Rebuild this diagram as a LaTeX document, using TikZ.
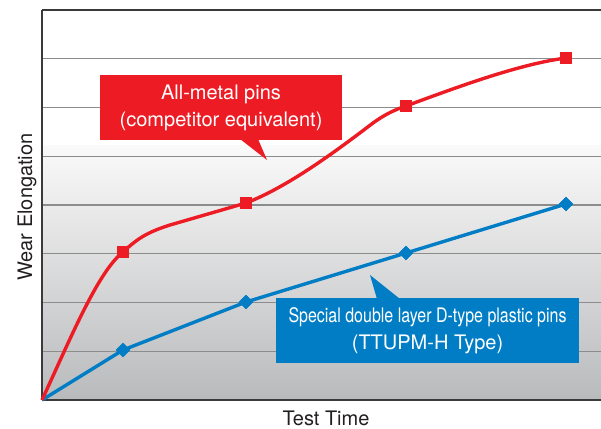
\documentclass[tikz,border=0pt]{standalone}
\usepackage{fontspec}
\setmainfont{TeX Gyre Heros}
\usepackage{graphicx}
\definecolor{pinred}{HTML}{ED1C24}
\definecolor{pinblue}{HTML}{007DC5}
\definecolor{gridgray}{HTML}{8C8C8C}
\definecolor{axisdark}{HTML}{3A3A3A}
\definecolor{txt}{HTML}{231F20}
\definecolor{bgbottom}{HTML}{B9BABC}
\definecolor{bgtop}{HTML}{FAFAFA}
\tikzset{
  gridline/.style={draw=gridgray, line width=1.1pt},
  axisline/.style={draw=axisdark, line width=1.6pt},
  redcurve/.style={draw=pinred, line width=3.4pt, line join=round},
  bluecurve/.style={draw=pinblue, line width=3.4pt, line join=round},
  redmark/.style={fill=pinred, draw=none, minimum size=12pt, inner sep=0pt, shape=rectangle},
  bluemark/.style={fill=pinblue, draw=none, minimum size=10pt, inner sep=0pt, shape=rectangle, rotate=45},
  callout/.style={text=white, inner sep=0pt, align=center, font=\fontsize{20}{27}\selectfont},
  axislabel/.style={text=txt, inner sep=0pt, font=\fontsize{20}{24}\selectfont},
}
\begin{document}
\begin{tikzpicture}[x=1pt, y=-1pt]
\useasboundingbox (0,0) rectangle (601,428);
% background
\fill[white] (42,10) rectangle (601,400);
\shade[top color=bgtop, bottom color=bgbottom] (42,145) rectangle (601,400);
% grid
\foreach \yy in {58.75,107.5,156.25,205,253.75,302.5,351.25}
  \draw[gridline] (42,\yy) -- (601,\yy);
% axes
\draw[axisline] (42,10) -- (601,10);
\draw[draw=axisdark, line width=1.3pt] (42,10) -- (42,400);
\draw[axisline] (42,400) -- (601,400);
% data nodes
\coordinate (o) at (42,400);
\node[redmark] (r1) at (123,252) {};
\node[redmark] (r2) at (246,203) {};
\node[redmark] (r3) at (406,106) {};
\node[redmark] (r4) at (566,58) {};
\node[bluemark] (b1) at (123,350) {};
\node[bluemark] (b2) at (246,302) {};
\node[bluemark] (b3) at (406,253) {};
\node[bluemark] (b4) at (566,204) {};
% curves
\draw[bluecurve] (o) -- (b1.center) -- (b2.center) -- (b3.center) -- (b4.center);
\draw[redcurve] (o) .. controls (72,335) and (98,272) .. (r1.center)
  .. controls (138,238) and (148,232) .. (170,225)
  -- (r2.center)
  .. controls (290,186) and (340,148) .. (373,123)
  .. controls (384,115) and (394,110) .. (r3.center)
  .. controls (460,86) and (520,64) .. (r4.center);
% redraw markers on top
\node[redmark] at (r1) {};
\node[redmark] at (r2) {};
\node[redmark] at (r3) {};
\node[redmark] at (r4) {};
\node[bluemark] at (b1) {};
\node[bluemark] at (b2) {};
\node[bluemark] at (b3) {};
\node[bluemark] at (b4) {};
% red callout
\node[callout, fill=pinred, minimum width=242pt, minimum height=65pt] (redbox) at (221,107.5)
  {All-metal pins\\(competitor equivalent)};
\coordinate (rtip) at (267,160);
\fill[pinred] (240,139) -- (rtip) -- (258,139) -- cycle;
% blue callout
\node[callout, fill=pinblue, minimum width=303pt, minimum height=65pt] (bluebox) at (427.5,330.5)
  {\resizebox{278pt}{\height}{Special double layer D-type plastic pins}\\(TTUPM-H Type)};
\coordinate (btip) at (370,275);
\fill[pinblue] (377,299) -- (btip) -- (400,299) -- cycle;
% axis labels
\node[axislabel, anchor=base] (xlab) at (326,425) {Test Time};
\node[axislabel, rotate=90, anchor=base] (ylab) at (32,207) {Wear Elongation};
\end{tikzpicture}
\end{document}
